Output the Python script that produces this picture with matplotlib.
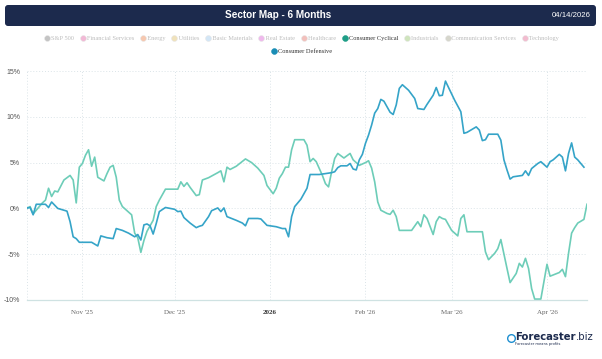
import numpy as np
import pandas as pd
import matplotlib
matplotlib.use('Agg')
import matplotlib.pyplot as plt
import matplotlib.dates as mdates
from matplotlib.patches import FancyBboxPatch
from matplotlib.lines import Line2D

# Consumer Cyclical, % change since start
cyc_dates = ['2025-10-14', '2025-10-15', '2025-10-16', '2025-10-17', '2025-10-19', '2025-10-20',
             '2025-10-21', '2025-10-22', '2025-10-23', '2025-10-24', '2025-10-26', '2025-10-28',
             '2025-10-29', '2025-10-30', '2025-10-31', '2025-11-01', '2025-11-02', '2025-11-03',
             '2025-11-04', '2025-11-05', '2025-11-06', '2025-11-08', '2025-11-09', '2025-11-10',
             '2025-11-11', '2025-11-12', '2025-11-13', '2025-11-14', '2025-11-16', '2025-11-17',
             '2025-11-18', '2025-11-19', '2025-11-20', '2025-11-21', '2025-11-22', '2025-11-24',
             '2025-11-25', '2025-11-26', '2025-11-27', '2025-11-28', '2025-12-02', '2025-12-03',
             '2025-12-04', '2025-12-05', '2025-12-06', '2025-12-08', '2025-12-09', '2025-12-10',
             '2025-12-12', '2025-12-15', '2025-12-16', '2025-12-17', '2025-12-18', '2025-12-19',
             '2025-12-21', '2025-12-24', '2025-12-26', '2025-12-28', '2025-12-30', '2025-12-31',
             '2026-01-02', '2026-01-03', '2026-01-04', '2026-01-05', '2026-01-06', '2026-01-07',
             '2026-01-08', '2026-01-09', '2026-01-12', '2026-01-13', '2026-01-14', '2026-01-15',
             '2026-01-16', '2026-01-18', '2026-01-19', '2026-01-20', '2026-01-21', '2026-01-22',
             '2026-01-23', '2026-01-25', '2026-01-27', '2026-01-28', '2026-01-30', '2026-02-01',
             '2026-02-02', '2026-02-03', '2026-02-04', '2026-02-05', '2026-02-06', '2026-02-08',
             '2026-02-09', '2026-02-10', '2026-02-11', '2026-02-12', '2026-02-16', '2026-02-18',
             '2026-02-19', '2026-02-20', '2026-02-21', '2026-02-23', '2026-02-24', '2026-02-25',
             '2026-02-26', '2026-02-27', '2026-03-01', '2026-03-03', '2026-03-04', '2026-03-05',
             '2026-03-06', '2026-03-11', '2026-03-12', '2026-03-13', '2026-03-15', '2026-03-16',
             '2026-03-17', '2026-03-18', '2026-03-19', '2026-03-20', '2026-03-22', '2026-03-23',
             '2026-03-24', '2026-03-25', '2026-03-26', '2026-03-27', '2026-03-28', '2026-03-30',
             '2026-03-31', '2026-04-01', '2026-04-02', '2026-04-05', '2026-04-06', '2026-04-07',
             '2026-04-08', '2026-04-09', '2026-04-10', '2026-04-11', '2026-04-13', '2026-04-14']
cyc_vals = [0.0, 0.2, -0.6, -0.2, 0.6, 0.9,
            2.2, 1.3, 1.9, 1.8, 3.1, 3.6,
            3.1, 0.6, 4.5, 4.9, 5.8, 6.4,
            4.6, 5.6, 3.4, 3.0, 3.8, 4.5,
            4.7, 3.4, 0.9, 0.2, -0.4, -0.7,
            -2.7, -3.2, -4.8, -3.5, -2.5, -1.3,
            0.2, 0.9, 1.5, 2.1, 2.1, 2.9,
            2.4, 2.8, 2.3, 1.4, 1.5, 3.1,
            3.35, 3.9, 4.1, 2.9, 4.5, 4.25,
            4.6, 5.4, 5.0, 4.4, 3.6, 2.5,
            1.6, 2.2, 3.3, 3.8, 4.5, 4.5,
            6.4, 7.5, 7.5, 6.9, 5.1, 5.45,
            5.1, 3.6, 2.7, 2.35, 4.0, 5.45,
            6.0, 5.5, 6.0, 5.3, 4.7, 5.0,
            5.2, 4.4, 2.9, 0.7, -0.2, -0.55,
            -0.65, -0.2, -0.9, -2.4, -2.4, -1.45,
            -2.0, -0.7, -1.1, -2.85, -1.45, -0.9,
            -1.1, -1.2, -2.4, -3.0, -1.1, -0.7,
            -2.55, -2.55, -4.75, -5.6, -4.9, -4.4,
            -3.4, -5.0, -6.55, -8.1, -7.1, -6.0,
            -6.4, -5.45, -6.55, -8.75, -9.9, -9.9,
            -8.0, -6.1, -7.4, -7.0, -6.65, -7.45,
            -4.9, -2.7, -2.1, -1.6, -1.2, 0.45]

# Consumer Defensive, % change since start
def_dates = ['2025-10-14', '2025-10-15', '2025-10-16', '2025-10-17', '2025-10-20', '2025-10-21',
             '2025-10-22', '2025-10-24', '2025-10-27', '2025-10-28', '2025-10-29', '2025-10-30',
             '2025-10-31', '2025-11-04', '2025-11-06', '2025-11-07', '2025-11-09', '2025-11-11',
             '2025-11-12', '2025-11-14', '2025-11-16', '2025-11-18', '2025-11-19', '2025-11-20',
             '2025-11-21', '2025-11-22', '2025-11-23', '2025-11-24', '2025-11-25', '2025-11-26',
             '2025-11-28', '2025-12-01', '2025-12-02', '2025-12-03', '2025-12-04', '2025-12-06',
             '2025-12-08', '2025-12-09', '2025-12-10', '2025-12-12', '2025-12-13', '2025-12-15',
             '2025-12-16', '2025-12-17', '2025-12-18', '2025-12-21', '2025-12-23', '2025-12-24',
             '2025-12-25', '2025-12-28', '2025-12-29', '2025-12-31', '2026-01-03', '2026-01-05',
             '2026-01-06', '2026-01-07', '2026-01-08', '2026-01-09', '2026-01-11', '2026-01-12',
             '2026-01-13', '2026-01-14', '2026-01-17', '2026-01-21', '2026-01-22', '2026-01-23',
             '2026-01-24', '2026-01-26', '2026-01-27', '2026-01-28', '2026-01-29', '2026-01-30',
             '2026-01-31', '2026-02-01', '2026-02-02', '2026-02-03', '2026-02-04', '2026-02-05',
             '2026-02-06', '2026-02-07', '2026-02-09', '2026-02-10', '2026-02-11', '2026-02-12',
             '2026-02-13', '2026-02-15', '2026-02-17', '2026-02-18', '2026-02-20', '2026-02-21',
             '2026-02-23', '2026-02-24', '2026-02-25', '2026-02-26', '2026-02-27', '2026-03-02',
             '2026-03-04', '2026-03-05', '2026-03-06', '2026-03-09', '2026-03-10', '2026-03-11',
             '2026-03-12', '2026-03-13', '2026-03-16', '2026-03-17', '2026-03-18', '2026-03-19',
             '2026-03-20', '2026-03-21', '2026-03-24', '2026-03-25', '2026-03-26', '2026-03-27',
             '2026-03-29', '2026-03-30', '2026-04-01', '2026-04-02', '2026-04-03', '2026-04-05',
             '2026-04-06', '2026-04-07', '2026-04-08', '2026-04-09', '2026-04-10', '2026-04-11',
             '2026-04-12', '2026-04-13']
def_vals = [0.05, 0.1, -0.7, 0.45, 0.45, 0.1,
            0.7, 0.0, -0.3, -1.45, -3.1, -3.3,
            -3.7, -3.7, -4.1, -3.0, -3.2, -3.3,
            -2.2, -2.4, -2.7, -3.1, -2.85, -3.45,
            -1.8, -1.7, -1.9, -2.8, -1.65, -0.35,
            0.1, -0.1, -0.35, -0.3, -1.0, -1.6,
            -2.1, -1.95, -1.85, -0.9, -0.25, 0.05,
            -0.35, 0.05, -0.9, -1.3, -1.6, -1.9,
            -1.1, -1.1, -1.15, -1.85, -2.0, -2.2,
            -2.2, -3.1, -0.9, 0.2, 1.0, 1.6,
            2.2, 3.7, 3.7, 3.9, 4.0, 4.45,
            4.65, 4.65, 4.9, 4.3, 4.2, 5.3,
            5.9, 7.1, 8.0, 9.1, 10.4, 10.9,
            11.9, 11.7, 10.5, 10.25, 11.3, 13.1,
            13.5, 12.9, 12.0, 10.9, 10.8, 11.35,
            12.35, 13.2, 12.3, 12.35, 13.9, 11.8,
            10.55, 8.2, 8.3, 8.9, 8.55, 7.4,
            7.5, 8.1, 8.1, 7.45, 5.3, 4.2,
            3.2, 3.45, 3.6, 4.1, 3.6, 4.35,
            4.9, 5.1, 4.5, 5.1, 5.3, 5.9,
            5.6, 4.1, 6.0, 7.15, 5.6, 5.3,
            4.9, 4.5]

legend_names = ['S&P 500', 'Financial Services', 'Energy', 'Utilities', 'Basic Materials',
                'Real Estate', 'Healthcare', 'Consumer Cyclical', 'Industrials',
                'Communication Services', 'Technology', 'Consumer Defensive']
legend_colors = ['#c4c4c4', '#f2b9d6', '#f6c8b0', '#f0e2bc', '#d3e6f6', '#efb9ec',
                 '#f2c0bc', '#1f9e87', '#cfe4bd', '#d6d6cc', '#f2bccf', '#1a8db5']
legend_active = [False] * 7 + [True] + [False] * 3 + [True]

month_ticks = ['2025-11-01', '2025-12-01', '2026-01-01', '2026-02-01', '2026-03-01', '2026-04-01']
month_labels = ["Nov '25", "Dec '25", '2026', "Feb '26", "Mar '26", "Apr '26"]
y_ticks = [-10, -5, 0, 5, 10, 15]

cyc_color = '#6dcdb8'
def_color = '#35a4c8'
W, H = 602, 359

fig = plt.figure(figsize=(W / 100, H / 100), dpi=100)
fig.patch.set_facecolor('white')
renderer = fig.canvas.get_renderer()

# title bar
bar = FancyBboxPatch((5 / W, 1 - 26 / H), 591 / W, 21 / H,
                     boxstyle='round,pad=0,rounding_size=0.005', mutation_aspect=W / H,
                     transform=fig.transFigure, facecolor='#1c2a4d', edgecolor='none')
fig.patches.append(bar)
fig.text(278 / W, 1 - 15.5 / H, 'Sector Map - 6 Months', color='white', fontsize=7.2,
         fontweight='bold', family='Liberation Sans', ha='center', va='center')
fig.text(591 / W, 1 - 15.5 / H, '04/14/2026', color='white', fontsize=5.6,
         family='Liberation Sans', ha='right', va='center')

# legend: row 1 as three text runs (grey / active / grey), row 2 single item
leg_font = dict(fontsize=4.6, family='Liberation Serif')
SEP = ' ' * 8


def adv(s):
    # advance width in pixels, trailing spaces included
    t = fig.text(0, 0, s + '|', **leg_font)
    w1 = t.get_window_extent(renderer).width
    t.remove()
    t = fig.text(0, 0, '|', **leg_font)
    w2 = t.get_window_extent(renderer).width
    t.remove()
    return w1 - w2


row1 = list(range(11))
runs = [[0, 1, 2, 3, 4, 5, 6], [7], [8, 9, 10]]
run_strs = [SEP.join(legend_names[i] for i in r) for r in runs]
run_w = [adv(s) for s in run_strs]
gap = adv(SEP)
total = sum(run_w) + gap * (len(runs) - 1) + 4
x = 303 - total / 2 + 4
row_y = 38
for r, s, w in zip(runs, run_strs, run_w):
    act = legend_active[r[0]]
    fig.text(x / W, 1 - (row_y + 1.6) / H, s, color='#333333' if act else '#bdbdbd',
             ha='left', va='baseline', **leg_font)
    prefix = ''
    for i in r:
        nx = x + adv(prefix)
        fig.add_artist(Line2D([(nx - 4) / W], [1 - row_y / H], marker='o', markersize=4.2,
                              markerfacecolor=legend_colors[i],
                              markeredgecolor=legend_colors[i] if act else '#e6e6e6',
                              markeredgewidth=0.4, transform=fig.transFigure))
        prefix += legend_names[i] + SEP
    x += w + gap

name2 = legend_names[11]
w2 = adv(name2)
x2 = 303 - (w2 + 4) / 2 + 4
fig.add_artist(Line2D([(x2 - 4) / W], [1 - 51 / H], marker='o', markersize=4.2,
                      markerfacecolor=legend_colors[11], markeredgecolor=legend_colors[11],
                      markeredgewidth=0.4, transform=fig.transFigure))
fig.text(x2 / W, 1 - 52.6 / H, name2, color='#333333', ha='left', va='baseline', **leg_font)

ax = fig.add_axes([27 / W, 1 - 300 / H, 560 / W, 229 / H])
cd = pd.to_datetime(cyc_dates)
dd = pd.to_datetime(def_dates)
ax.plot(cd, cyc_vals, color=cyc_color, lw=1.2, solid_joinstyle='round')
ax.plot(dd, def_vals, color=def_color, lw=1.2, solid_joinstyle='round')

ax.set_xlim(pd.Timestamp('2025-10-14'), pd.Timestamp('2026-04-14'))
ax.set_ylim(-10, 15)
ax.set_yticks(y_ticks)
ax.set_yticklabels([f'{v}%' for v in y_ticks], fontsize=5, color='#555555', family='Liberation Sans')
ax.set_xticks(pd.to_datetime(month_ticks))
ax.set_xticklabels(month_labels, fontsize=5, color='#666666', family='Liberation Serif')
ax.get_xticklabels()[2].set_fontweight('bold')
ax.get_xticklabels()[2].set_color('#333333')
ax.tick_params(axis='x', length=0, pad=7)
ax.tick_params(axis='y', length=0, pad=5)

for v in y_ticks[1:]:
    ax.axhline(v, color='#dbe4e8', lw=0.7, ls=(0, (1, 2)), zorder=0)
for t in pd.to_datetime(month_ticks):
    ax.axvline(t, color='#dbe4e8', lw=0.7, ls=(0, (1, 2)), zorder=0)
ax.axvline(pd.Timestamp('2025-10-14'), color='#dbe4e8', lw=0.7, ls=(0, (1, 2)), zorder=0)
for s in ['top', 'right', 'left']:
    ax.spines[s].set_visible(False)
ax.spines['bottom'].set_color('#cfe2e2')
ax.spines['bottom'].set_linewidth(0.9)

# logo
fig.add_artist(Line2D([511 / W], [1 - 338 / H], marker='o', markersize=5.5, markerfacecolor='white',
                      markeredgecolor='#1e8fd0', markeredgewidth=1.0, transform=fig.transFigure))
t1 = fig.text(515 / W, 1 - 337 / H, 'Forecaster', fontsize=7.3, fontweight='bold', color='#1c2a4d',
              family='DejaVu Sans', ha='left', va='center')
bb = t1.get_window_extent(renderer)
fig.text(bb.x1 / W + 0.5 / W, 1 - 337 / H, '.biz', fontsize=7.3, color='#1c2a4d',
         family='DejaVu Sans', ha='left', va='center')
fig.text(515 / W, 1 - 344.5 / H, 'Forecaster means profits', fontsize=2.6, color='#1c2a4d',
         family='DejaVu Sans', ha='left', va='center')

fig.savefig('out.png', dpi=100)
